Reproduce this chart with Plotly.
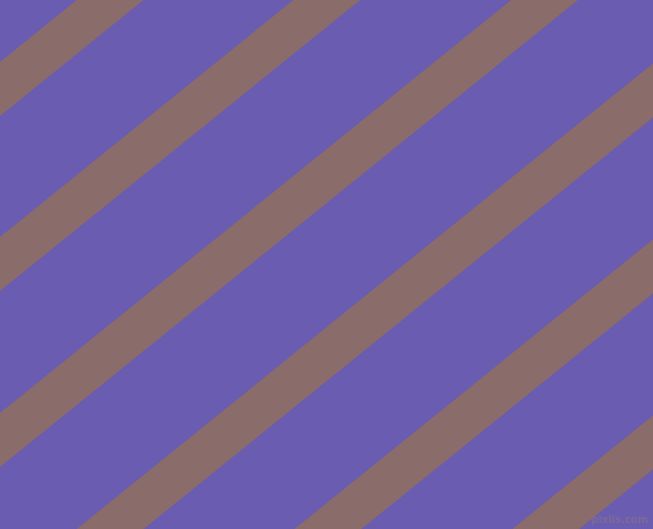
import plotly.graph_objects as go

# Pattern data (pixel-space units of the canvas)
canvas_w = 653
canvas_h = 529
stripe_offsets = [62, 237, 413, 591, 767, 943]   # y-intercept of each stripe's upper edge
stripe_width = 54                                  # vertical thickness of each stripe
slope = 0.808                                      # downward slope (y decreases as x grows)
bg_color = "#6a5cb0"
stripe_color = "#8a6c6a"
watermark = "pixlis.com"

fig = go.Figure()
x0, x1 = -200, canvas_w + 200
for c in stripe_offsets:
    cu, cl = c, c + stripe_width
    xs = [x0, x1, x1, x0, x0]
    ys = [cu - slope * x0, cu - slope * x1, cl - slope * x1, cl - slope * x0, cu - slope * x0]
    fig.add_trace(go.Scatter(x=xs, y=ys, mode="lines", fill="toself",
                             fillcolor=stripe_color, line=dict(width=0, color=stripe_color),
                             hoverinfo="skip", showlegend=False))

fig.add_annotation(x=canvas_w - 3, y=canvas_h - 10, xref="x", yref="y", text="<b>" + watermark + "</b>",
                   showarrow=False, xanchor="right", yanchor="middle",
                   font=dict(family="DejaVu Sans", size=10, color="#7a6a98"))

fig.update_layout(width=canvas_w, height=canvas_h, margin=dict(l=0, r=0, t=0, b=0, pad=0),
                  plot_bgcolor=bg_color, paper_bgcolor=bg_color, showlegend=False)
fig.update_xaxes(range=[0, canvas_w], visible=False, fixedrange=True)
fig.update_yaxes(range=[canvas_h, 0], visible=False, fixedrange=True)
fig.write_html("out.html", config={"displayModeBar": False},
               post_script="document.body.style.margin='0';document.body.style.overflow='hidden';document.body.style.background='" + bg_color + "';")
